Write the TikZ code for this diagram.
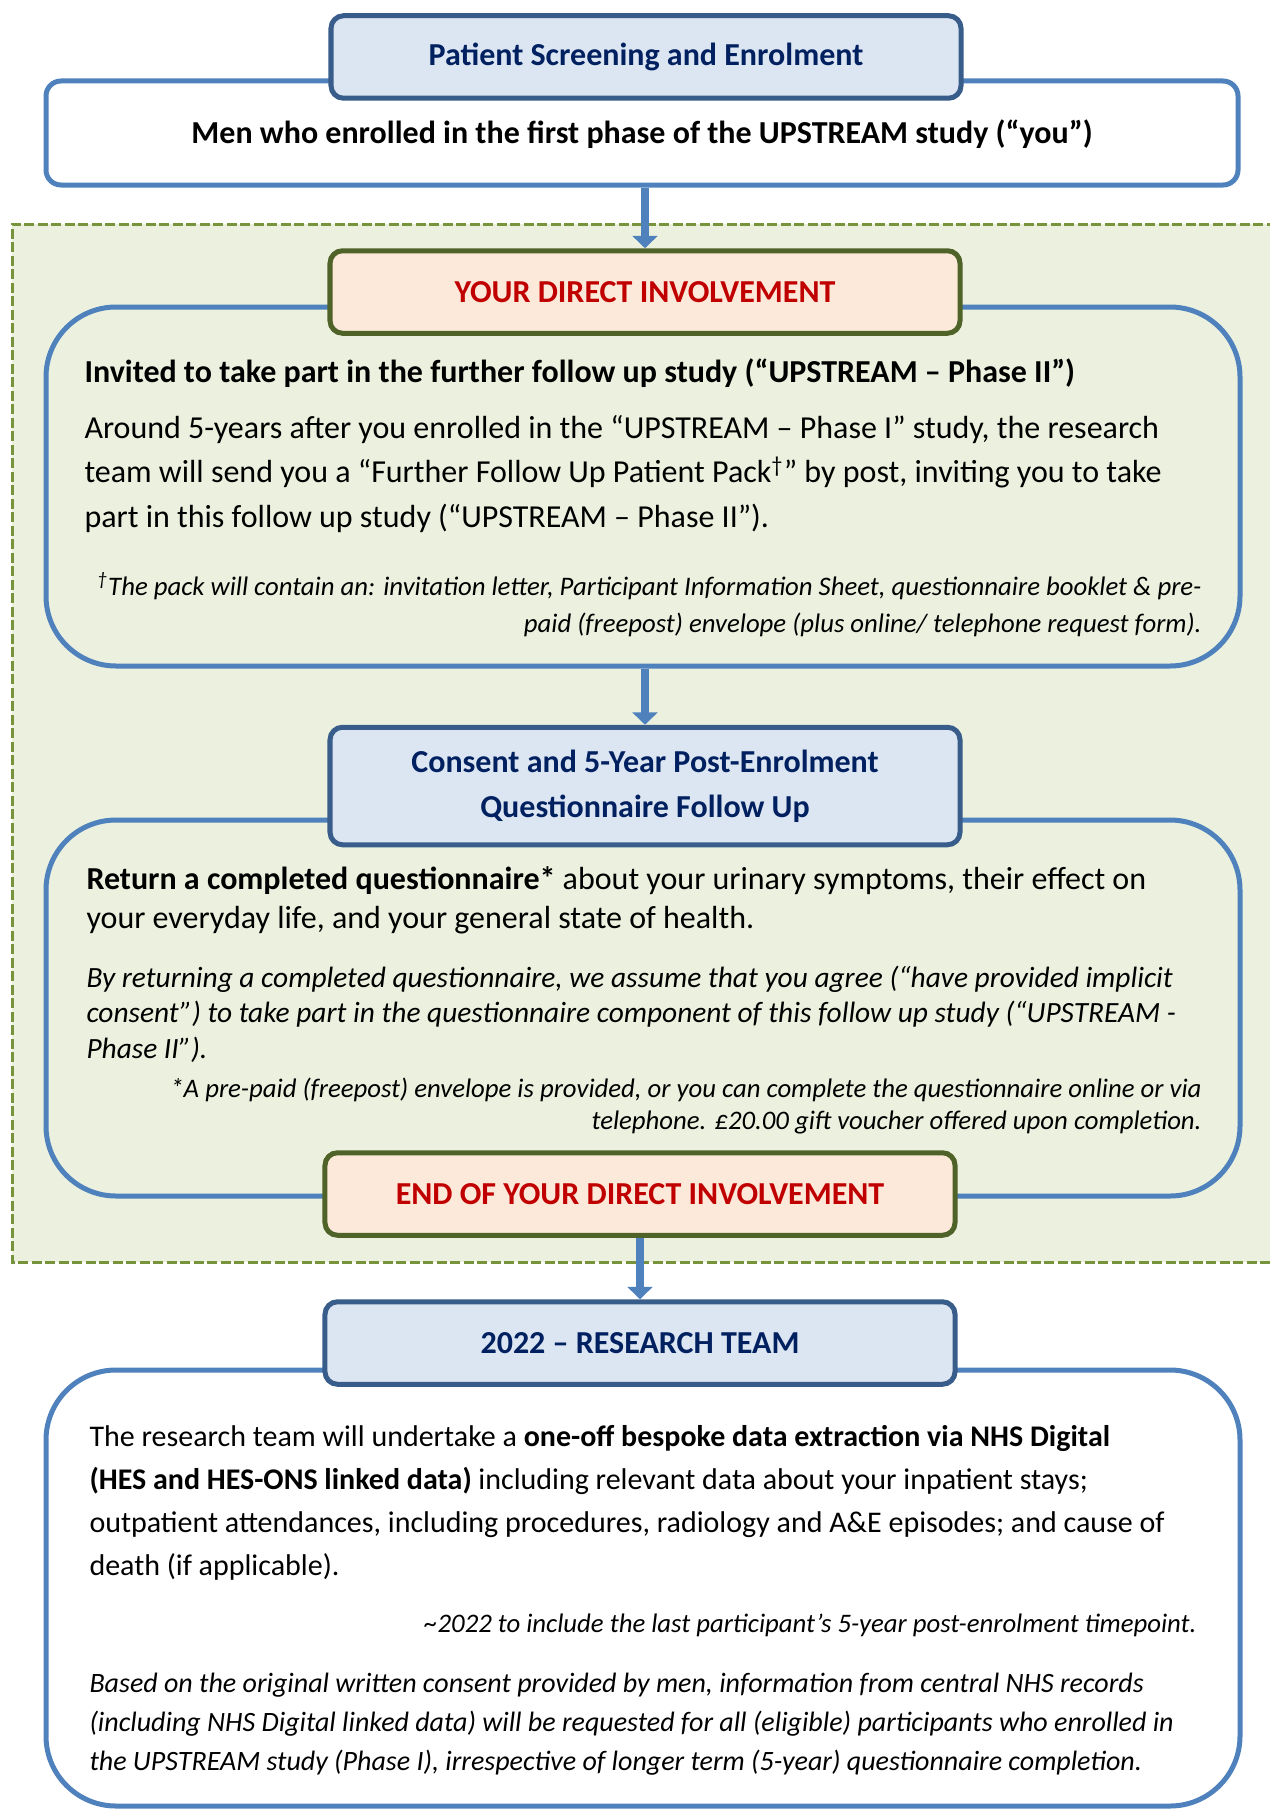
\documentclass[tikz,border=0pt]{standalone}
\usepackage{fontspec}
\setmainfont{Carlito}
\usetikzlibrary{arrows.meta, positioning, fit}
\definecolor{panelblue}{RGB}{79,129,189}
\definecolor{headline}{RGB}{56,93,138}
\definecolor{headfill}{RGB}{220,230,242}
\definecolor{headtext}{RGB}{0,32,96}
\definecolor{stageline}{RGB}{79,98,40}
\definecolor{stagefill}{RGB}{253,233,217}
\definecolor{stagetext}{RGB}{192,0,0}
\definecolor{zoneline}{RGB}{119,147,60}
\definecolor{zonefill}{RGB}{235,241,222}

\begin{document}
\begin{tikzpicture}[x=0.4pt, y=-0.4pt,
        panel/.style={rectangle, draw=panelblue, line width=2pt, rounded corners=28pt, inner sep=0pt},
        headbox/.style={rectangle, rounded corners=5pt, draw=headline, fill=headfill, line width=2pt, text=headtext, font=\fontsize{12.8}{18}\selectfont\bfseries, minimum width=252pt, minimum height=33pt, align=center, inner sep=0pt},
        stagebox/.style={headbox, draw=stageline, fill=stagefill, text=stagetext},
        para/.style={inner sep=0pt, align=left, anchor=west},
        note/.style={inner sep=0pt, align=right, anchor=east, font=\fontsize{10.7}{14.8}\selectfont\itshape},
        arr/.style={-{Triangle[length=5pt, width=10pt]}, draw=panelblue, line width=3pt}
    ]
        \useasboundingbox (0,0) rectangle (1270,1812);

        % Zone of direct involvement
        \fill[zonefill] (12,224) rectangle (1290,1262);
        \draw[zoneline, line width=1.2pt, dash pattern=on 4pt off 1.4pt] (1290,224) -- (12,224) -- (12,1262) -- (1290,1262);

        % Panels
        \node[panel, rounded corners=6pt, fill=white, fit={(46,81) (1238,185)}] (cohort) {};
        \node[panel, fit={(46,307) (1240,666)}] (invite) {};
        \node[panel, fit={(46,820) (1240,1196)}] (consent) {};
        \node[panel, fill=white, fit={(46,1370) (1240,1806)}] (extract) {};

        % Headers
        \node[headbox] (screen) at (646,57) {Patient Screening and Enrolment};
        \node[stagebox] (direct) at (645,292) {YOUR DIRECT INVOLVEMENT};
        \node[headbox, minimum height=47pt] (qhead) at (645,786) {Consent and 5-Year Post-Enrolment\\Questionnaire Follow Up};
        \node[stagebox] (endhead) at (640,1194) {END OF YOUR DIRECT INVOLVEMENT};
        \node[headbox] (team) at (640,1343) {2022 -- RESEARCH TEAM};

        % Texts
        \node[font=\fontsize{12.8}{15}\selectfont\bfseries, inner sep=0pt] (cohorttext) at (642,134) {Men who enrolled in the first phase of the UPSTREAM study (“you”)};

        \node[para, font=\fontsize{12.8}{15}\selectfont\bfseries] (invitehead) at (84,373) {Invited to take part in the further follow up study (“UPSTREAM -- Phase II”)};
        \node[para, font=\fontsize{12.8}{17.8}\selectfont] (invitebody) at (84,474) {Around 5-years after you enrolled in the “UPSTREAM -- Phase I” study, the research\\team will send you a “Further Follow Up Patient Pack\textsuperscript{†}” by post, inviting you to take\\part in this follow up study (“UPSTREAM -- Phase II”).};
        \node[note] (packnote) at (1202,605) {\textsuperscript{†}The pack will contain an: invitation letter, Participant Information Sheet, questionnaire booklet \& pre-\\paid (freepost) envelope (plus online/ telephone request form).};

        \node[para, font=\fontsize{12.8}{15.6}\selectfont] (returntext) at (86,900) {\textbf{Return a completed questionnaire*} about your urinary symptoms, their effect on\\your everyday life, and your general state of health.};
        \node[para, font=\fontsize{11.75}{14.2}\selectfont\itshape] (implied) at (86,1014) {By returning a completed questionnaire, we assume that you agree (“have provided implicit\\consent”) to take part in the questionnaire component of this follow up study (“UPSTREAM -\\Phase II”).};
        \node[note, font=\fontsize{10.7}{12.8}\selectfont\itshape] (vouchernote) at (1202,1106) {*A pre-paid (freepost) envelope is provided, or you can complete the questionnaire online or via\\telephone. £20.00 gift voucher offered upon completion.};

        \node[para, font=\fontsize{12}{17.2}\selectfont] (extracttext) at (89,1503) {The research team will undertake a \textbf{one-off bespoke data extraction via NHS Digital}\\\textbf{(HES and HES-ONS linked data)} including relevant data about your inpatient stays;\\outpatient attendances, including procedures, radiology and A\&E episodes; and cause of\\death (if applicable).};
        \node[note] (timenote) at (1197,1625) {\textasciitilde2022 to include the last participant’s 5-year post-enrolment timepoint.};
        \node[para, font=\fontsize{11.2}{15.6}\selectfont\itshape] (records) at (89,1724) {Based on the original written consent provided by men, information from central NHS records\\(including NHS Digital linked data) will be requested for all (eligible) participants who enrolled in\\the UPSTREAM study (Phase I), irrespective of longer term (5-year) questionnaire completion.};

        % Links
        \draw[arr] (direct.north |- cohort.south) -- (direct.north);
        \draw[arr] (qhead.north |- invite.south) -- (qhead.north);
        \draw[arr] (endhead.south) -- (team.north);
    \end{tikzpicture}
\end{document}
